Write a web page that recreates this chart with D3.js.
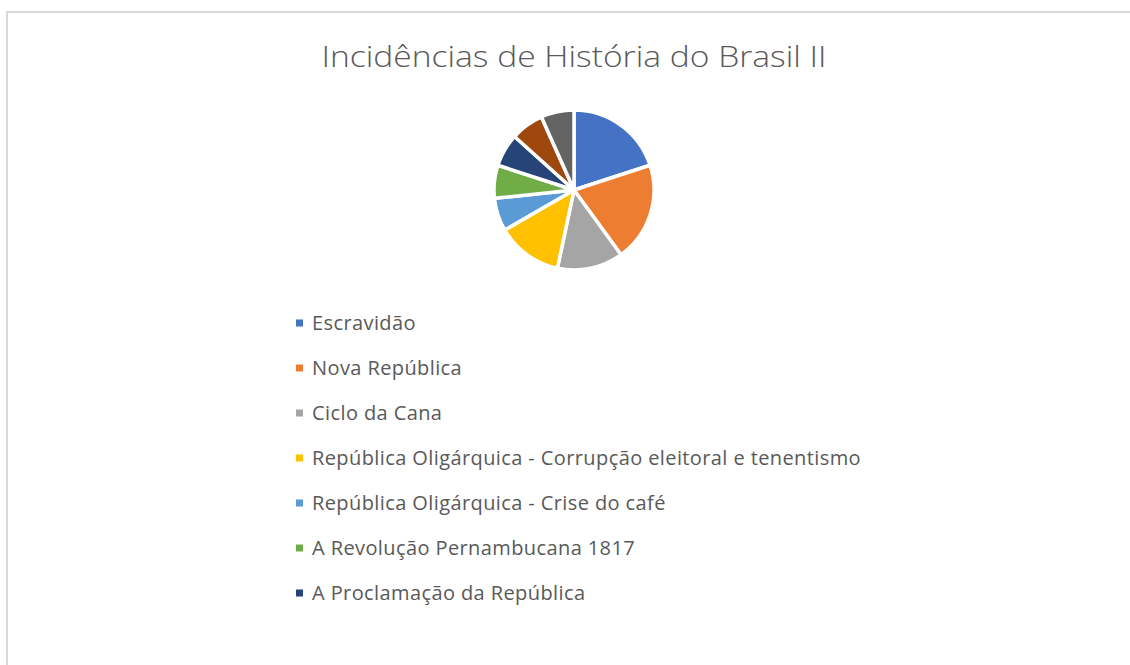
<!DOCTYPE html>
<html>
<head>
<meta charset="utf-8">
<script src="https://cdn.jsdelivr.net/npm/d3@7"></script>
<style>
html,body{margin:0;padding:0;background:#fff;}
svg{display:block;}
</style>
</head>
<body>
<svg id="chart" width="1130" height="665"></svg>
<script>
const categories = [
  "Escravidão",
  "Nova República",
  "Ciclo da Cana",
  "República Oligárquica - Corrupção eleitoral e tenentismo",
  "República Oligárquica - Crise do café",
  "A Revolução Pernambucana 1817",
  "A Proclamação da República",
  "Categoria 8",
  "Categoria 9"
];
const values = [3, 3, 2, 2, 1, 1, 1, 1, 1];
const colors = ["#4472C4", "#ED7D31", "#A5A5A5", "#FFC000", "#5B9BD5", "#70AD47", "#264478", "#9E480E", "#636363"];
const title = "Incidências de História do Brasil II";
const legendShown = 7;

const svg = d3.select("#chart");
const font = "'Open Sans', 'Noto Sans', sans-serif";

svg.append("rect")
  .attr("x", 7).attr("y", 12)
  .attr("width", 1140).attr("height", 670)
  .attr("fill", "#fff").attr("stroke", "#D9D9D9").attr("stroke-width", 2);

svg.append("text")
  .attr("x", 574).attr("y", 67)
  .attr("text-anchor", "middle")
  .attr("font-family", font)
  .attr("font-size", 30)
  .attr("font-weight", 300)
  .attr("fill", "#595959")
  .attr("textLength", 505)
  .attr("lengthAdjust", "spacingAndGlyphs")
  .text(title);

const data = categories.map((c, i) => ({name: c, value: values[i]}));
const pie = d3.pie().value(d => d.value).sort(null);
const arc = d3.arc().innerRadius(0).outerRadius(80);
const color = d3.scaleOrdinal().domain(categories).range(colors);

const g = svg.append("g").attr("transform", "translate(574,190)");
g.selectAll("path")
  .data(pie(data))
  .join("path")
  .attr("d", arc)
  .attr("fill", d => color(d.data.name))
  .attr("stroke", "#fff")
  .attr("stroke-width", 3.5)
  .attr("stroke-linejoin", "round");

const legendY = d3.scaleLinear().domain([0, 6]).range([323, 593]);
const lg = svg.append("g");
const items = lg.selectAll("g")
  .data(data.slice(0, legendShown))
  .join("g")
  .attr("transform", (d, i) => `translate(296,${legendY(i)})`);
items.append("rect")
  .attr("x", 0).attr("y", -3.5)
  .attr("width", 7).attr("height", 7)
  .attr("fill", d => color(d.name));
items.append("text")
  .attr("x", 16).attr("y", 0)
  .attr("dy", "0.35em")
  .attr("font-family", font)
  .attr("font-size", 20)
  .attr("letter-spacing", 0.4)
  .attr("fill", "#595959")
  .text(d => d.name);
</script>
</body>
</html>
